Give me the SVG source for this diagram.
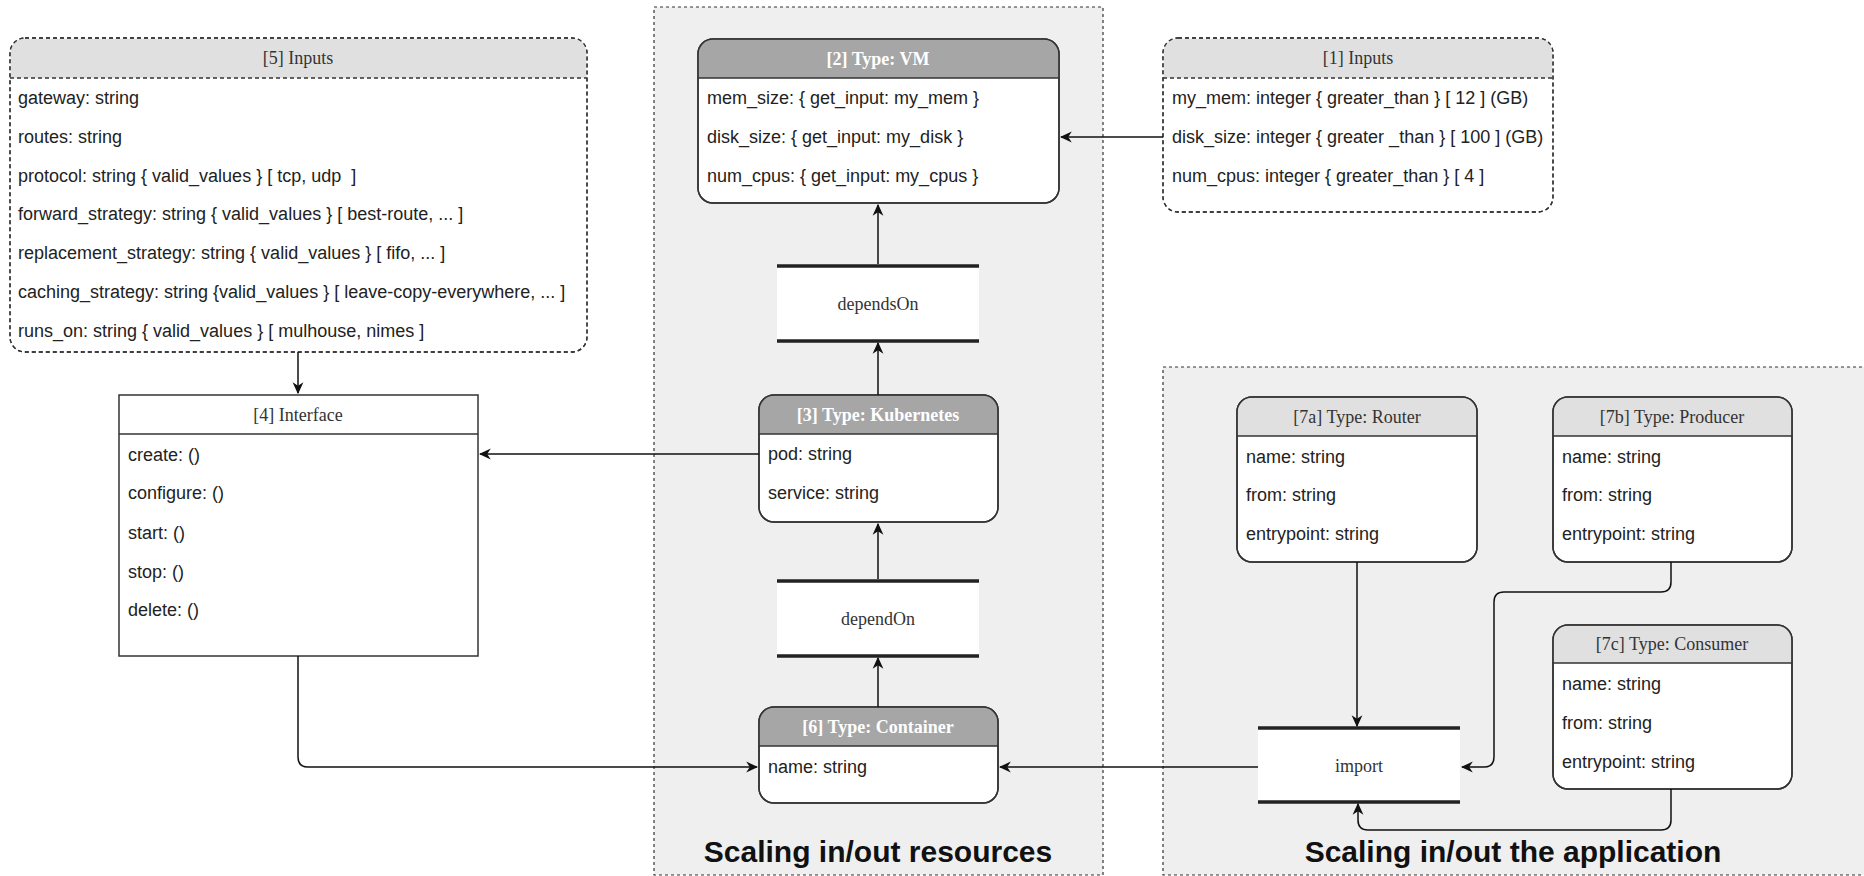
<svg xmlns="http://www.w3.org/2000/svg" width="1864" height="876" viewBox="0 0 1864 876">
<defs>
<marker id="arr" markerUnits="userSpaceOnUse" markerWidth="12" markerHeight="12" viewBox="0 0 10 10" refX="9" refY="5" orient="auto">
<path d="M0,0.5 L10,5 L0,9.5 L3,5 Z" fill="#111"/>
</marker>
<style>
.cont{fill:#efefef;stroke:#333;stroke-width:1.2;stroke-dasharray:3,3}
.box{fill:#fff;stroke:#333;stroke-width:1.5}
.dbox{fill:#fff;stroke:#333;stroke-width:1.3;stroke-dasharray:4,3}
.hl{fill:#e0e0e0}
.hd{fill:#a6a6a6}
.div{stroke:#333;stroke-width:1.5;fill:none}
.ddiv{stroke:#333;stroke-width:1.3;stroke-dasharray:4,3;fill:none}
.row{font-family:"Liberation Sans",Arial,sans-serif;font-size:18px;fill:#222}
.hdr{font-family:"Liberation Serif","Times New Roman",serif;font-size:18px;fill:#333;text-anchor:middle}
.hdrb{font-family:"Liberation Serif","Times New Roman",serif;font-size:18px;font-weight:bold;fill:#fff;text-anchor:middle}
.bar{stroke:#222;stroke-width:3.5}
.title{font-family:"Liberation Sans",Arial,sans-serif;font-size:30px;font-weight:bold;fill:#111;text-anchor:middle}
.conn{fill:none;stroke:#111;stroke-width:1.5;marker-end:url(#arr)}
</style>
</defs>
<rect width="1864" height="876" fill="#fff"/>

<g id="group-resources">
<rect class="cont" x="654" y="7" width="449" height="868"/>
<text class="title" x="878" y="862">Scaling in/out resources</text>
</g>
<g id="group-application">
<rect class="cont" x="1163" y="367" width="710" height="508"/>
<text class="title" x="1513" y="862">Scaling in/out the application</text>
</g>

<g id="node-5-inputs">
<rect class="dbox" x="10" y="38" width="577" height="314" rx="15"/>
<path class="hl" d="M10.7,78 V53 Q10.7,38.7 25,38.7 H572 Q586.3,38.7 586.3,53 V78 Z"/>
<rect x="10" y="38" width="577" height="314" rx="15" fill="none" stroke="#333" stroke-width="1.3" stroke-dasharray="4,3"/>
<line class="ddiv" x1="10" y1="78" x2="587" y2="78"/>
<text class="hdr" x="298" y="64">[5] Inputs</text>
<text class="row" x="18" y="104">gateway: string</text>
<text class="row" x="18" y="143">routes: string</text>
<text class="row" x="18" y="182">protocol: string { valid_values } [ tcp, udp&#160; ]</text>
<text class="row" x="18" y="220">forward_strategy: string { valid_values } [ best-route, ... ]</text>
<text class="row" x="18" y="259">replacement_strategy: string { valid_values } [ fifo, ... ]</text>
<text class="row" x="18" y="298">caching_strategy: string {valid_values } [ leave-copy-everywhere, ... ]</text>
<text class="row" x="18" y="337">runs_on: string { valid_values } [ mulhouse, nimes ]</text>
</g>

<g id="node-1-inputs">
<rect class="dbox" x="1163" y="38" width="390" height="174" rx="15"/>
<path class="hl" d="M1163.7,78 V53 Q1163.7,38.7 1178,38.7 H1538 Q1552.3,38.7 1552.3,53 V78 Z"/>
<rect x="1163" y="38" width="390" height="174" rx="15" fill="none" stroke="#333" stroke-width="1.3" stroke-dasharray="4,3"/>
<line class="ddiv" x1="1163" y1="78" x2="1553" y2="78"/>
<text class="hdr" x="1358" y="64">[1] Inputs</text>
<text class="row" x="1172" y="104">my_mem: integer { greater_than } [ 12 ] (GB)</text>
<text class="row" x="1172" y="143">disk_size: integer { greater _than } [ 100 ] (GB)</text>
<text class="row" x="1172" y="182">num_cpus: integer { greater_than } [ 4 ]</text>
</g>

<g id="node-2-vm">
<rect class="box" x="698" y="39" width="361" height="164" rx="15"/>
<path class="hd" d="M698.7,78 V54 Q698.7,39.7 713,39.7 H1044 Q1058.3,39.7 1058.3,54 V78 Z"/>
<rect x="698" y="39" width="361" height="164" rx="15" fill="none" stroke="#333" stroke-width="1.5"/>
<line class="div" x1="698" y1="78" x2="1059" y2="78"/>
<text class="hdrb" x="878" y="65">[2] Type: VM</text>
<text class="row" x="707" y="104">mem_size: { get_input: my_mem }</text>
<text class="row" x="707" y="143">disk_size: { get_input: my_disk }</text>
<text class="row" x="707" y="182">num_cpus: { get_input: my_cpus }</text>
</g>

<g id="node-dependsOn">
<rect x="777" y="266" width="202" height="75" fill="#fff"/>
<line class="bar" x1="777" y1="266" x2="979" y2="266"/>
<line class="bar" x1="777" y1="341" x2="979" y2="341"/>
<text class="hdr" x="878" y="310">dependsOn</text>
</g>

<g id="node-3-kubernetes">
<rect class="box" x="759" y="395" width="239" height="127" rx="15"/>
<path class="hd" d="M759.7,434 V410 Q759.7,395.7 774,395.7 H983 Q997.3,395.7 997.3,410 V434 Z"/>
<rect x="759" y="395" width="239" height="127" rx="15" fill="none" stroke="#333" stroke-width="1.5"/>
<line class="div" x1="759" y1="434" x2="998" y2="434"/>
<text class="hdrb" x="878" y="421">[3] Type: Kubernetes</text>
<text class="row" x="768" y="460">pod: string</text>
<text class="row" x="768" y="499">service: string</text>
</g>

<g id="node-dependOn">
<rect x="777" y="581" width="202" height="75" fill="#fff"/>
<line class="bar" x1="777" y1="581" x2="979" y2="581"/>
<line class="bar" x1="777" y1="656" x2="979" y2="656"/>
<text class="hdr" x="878" y="625">dependOn</text>
</g>

<g id="node-6-container">
<rect class="box" x="759" y="707" width="239" height="96" rx="15"/>
<path class="hd" d="M759.7,746 V722 Q759.7,707.7 774,707.7 H983 Q997.3,707.7 997.3,722 V746 Z"/>
<rect x="759" y="707" width="239" height="96" rx="15" fill="none" stroke="#333" stroke-width="1.5"/>
<line class="div" x1="759" y1="746" x2="998" y2="746"/>
<text class="hdrb" x="878" y="733">[6] Type: Container</text>
<text class="row" x="768" y="773">name: string</text>
</g>

<g id="node-4-interface">
<rect class="box" x="119" y="395" width="359" height="261"/>
<line class="div" x1="119" y1="434" x2="478" y2="434"/>
<text class="hdr" x="298" y="421">[4] Interface</text>
<text class="row" x="128" y="461">create: ()</text>
<text class="row" x="128" y="499">configure: ()</text>
<text class="row" x="128" y="539">start: ()</text>
<text class="row" x="128" y="578">stop: ()</text>
<text class="row" x="128" y="616">delete: ()</text>
</g>

<g id="node-7a-router">
<rect class="box" x="1237" y="397" width="240" height="165" rx="15"/>
<path class="hl" d="M1237.7,436 V412 Q1237.7,397.7 1252,397.7 H1462 Q1476.3,397.7 1476.3,412 V436 Z"/>
<rect x="1237" y="397" width="240" height="165" rx="15" fill="none" stroke="#333" stroke-width="1.5"/>
<line class="div" x1="1237" y1="436" x2="1477" y2="436"/>
<text class="hdr" x="1357" y="423">[7a] Type: Router</text>
<text class="row" x="1246" y="463">name: string</text>
<text class="row" x="1246" y="501">from: string</text>
<text class="row" x="1246" y="540">entrypoint: string</text>
</g>

<g id="node-7b-producer">
<rect class="box" x="1553" y="397" width="239" height="165" rx="15"/>
<path class="hl" d="M1553.7,436 V412 Q1553.7,397.7 1568,397.7 H1777 Q1791.3,397.7 1791.3,412 V436 Z"/>
<rect x="1553" y="397" width="239" height="165" rx="15" fill="none" stroke="#333" stroke-width="1.5"/>
<line class="div" x1="1553" y1="436" x2="1792" y2="436"/>
<text class="hdr" x="1672" y="423">[7b] Type: Producer</text>
<text class="row" x="1562" y="463">name: string</text>
<text class="row" x="1562" y="501">from: string</text>
<text class="row" x="1562" y="540">entrypoint: string</text>
</g>

<g id="node-7c-consumer">
<rect class="box" x="1553" y="625" width="239" height="164" rx="15"/>
<path class="hl" d="M1553.7,663 V640 Q1553.7,625.7 1568,625.7 H1777 Q1791.3,625.7 1791.3,640 V663 Z"/>
<rect x="1553" y="625" width="239" height="164" rx="15" fill="none" stroke="#333" stroke-width="1.5"/>
<line class="div" x1="1553" y1="663" x2="1792" y2="663"/>
<text class="hdr" x="1672" y="650">[7c] Type: Consumer</text>
<text class="row" x="1562" y="690">name: string</text>
<text class="row" x="1562" y="729">from: string</text>
<text class="row" x="1562" y="768">entrypoint: string</text>
</g>

<g id="node-import">
<rect x="1258" y="728" width="202" height="74" fill="#fff"/>
<line class="bar" x1="1258" y1="728" x2="1460" y2="728"/>
<line class="bar" x1="1258" y1="802" x2="1460" y2="802"/>
<text class="hdr" x="1359" y="772">import</text>
</g>

<g id="connectors">
<path class="conn" d="M1163,137 H1061"/>
<path class="conn" d="M878,264 V205"/>
<path class="conn" d="M878,395 V343"/>
<path class="conn" d="M878,579 V524"/>
<path class="conn" d="M878,707 V658"/>
<path class="conn" d="M759,454 H480"/>
<path class="conn" d="M298,352 V393"/>
<path class="conn" d="M298,656 V757 Q298,767 308,767 H757"/>
<path class="conn" d="M1258,767 H1000"/>
<path class="conn" d="M1357,562 V726"/>
<path class="conn" d="M1671,562 V582 Q1671,592 1661,592 H1504 Q1494,592 1494,602 V757 Q1494,767 1484,767 H1462"/>
<path class="conn" d="M1671,789 V820 Q1671,830 1661,830 H1368 Q1358,830 1358,820 V804"/>
</g>
</svg>
